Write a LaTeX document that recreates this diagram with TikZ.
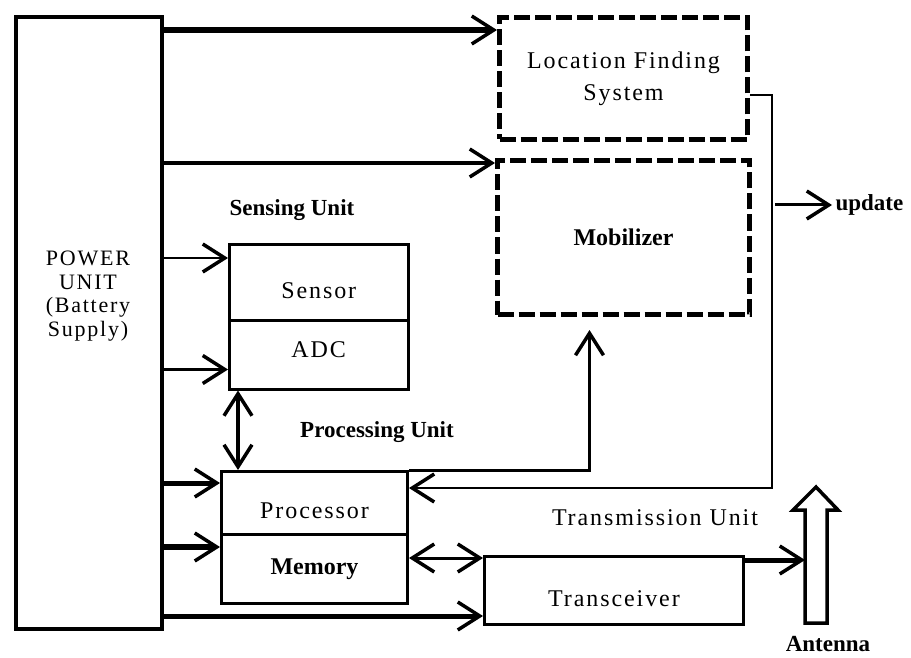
\documentclass[tikz,border=0pt]{standalone}
\usepackage{fontspec}
\setmainfont{Liberation Serif}
\newfontfamily\spacedfont[LetterSpace=8]{Liberation Serif}
\usetikzlibrary{arrows.meta}

\tikzset{
  box/.style={draw, line width=3pt, anchor=north west, inner sep=0pt},
  dbox/.style={draw, line width=5pt, dash pattern=on 16pt off 5pt, anchor=north west, inner sep=0pt},
  plain/.style={font=\fontsize{24}{28}\selectfont\spacedfont},
  boldlbl/.style={font=\fontsize{23}{27}\selectfont\bfseries},
  conn/.style={-{Straight Barb[length=22pt,width=28pt,line width=3.5pt]}},
  biconn/.style={{Straight Barb[length=22pt,width=28pt,line width=3.5pt]}-{Straight Barb[length=22pt,width=28pt,line width=3.5pt]}},
}

\begin{document}
\begin{tikzpicture}[x=1pt,y=-1pt]
\useasboundingbox (0,0) rectangle (911,658);

% power supply block
\node[box, line width=4pt, minimum width=146pt, minimum height=612pt] (power) at (14,15) {};
\node[align=center, font=\fontsize{22}{23.5}\selectfont\spacedfont] (powertxt) at (88,296) {POWER\\UNIT\\(Battery\\Supply)};

% location finding system and mobilizer (optional units, dashed)
\node[dbox, minimum width=248pt, minimum height=122pt, align=center,
      font=\fontsize{24}{32}\selectfont\spacedfont] (lfs) at (497,15) {Location Finding\\System};
\node[dbox, minimum width=252pt, minimum height=154pt, font=\fontsize{24}{28}\selectfont\bfseries] (mob) at (495,158) {Mobilizer};

% sensing unit
\node[box, line width=2.5pt, minimum width=179pt, minimum height=76pt,
      label={[plain, yshift=-8pt]center:Sensor}] (sensor) at (228,243) {};
\node[box, line width=2.5pt, minimum width=179pt, minimum height=69pt,
      label={[plain, yshift=5pt]center:ADC}] (adc) at (228,319) {};

% processing unit
\node[box, line width=3pt, minimum width=186pt, minimum height=63pt,
      label={[plain, yshift=-8pt]center:Processor}] (proc) at (220,470) {};
\node[box, line width=3pt, minimum width=186pt, minimum height=69pt, font=\fontsize{24}{28}\selectfont\bfseries] (mem) at (220,533) {Memory};

% transmission unit
\node[box, line width=3pt, minimum width=259pt, minimum height=68pt,
      label={[plain, yshift=-8pt]center:Transceiver}] (trans) at (483,555) {};

% antenna (hollow upward arrow)
\draw[line width=3.5pt, fill=white, line join=miter]
  (805,623) -- (827,623) -- (827,510) -- (838,510) -- (816,487) -- (793,510) -- (805,510) -- cycle;
\coordinate (antIn) at (805,560);

% unit labels
\node[boldlbl] (senslbl) at (292,210) {Sensing Unit};
\node[boldlbl] (proclbl) at (377,432) {Processing Unit};
\node[plain] (translbl) at (655,518) {Transmission Unit};
\node[boldlbl, inner sep=1pt] (antlbl) at (828,644) {Antenna};
\node[boldlbl, anchor=west] (upd) at (832,205) {update};

% entry points on the block borders
\coordinate (lfsIn) at ([yshift=-15pt]lfs.north west);
\coordinate (mobIn) at ([yshift=-5pt]mob.north west);
\coordinate (sensIn) at ([yshift=-15pt]sensor.north west);
\coordinate (adcIn) at ([yshift=21pt]adc.south west);
\coordinate (procIn) at ([yshift=-13pt]proc.north west);
\coordinate (memIn) at ([yshift=-14pt]mem.north west);
\coordinate (transIn) at ([yshift=10pt]trans.south west);
\coordinate (transMem) at ([yshift=-3pt]trans.north west);
\coordinate (mobUp) at ([xshift=-34pt,yshift=-13pt]mob.south);
\coordinate (procFb) at ([yshift=-18pt]proc.north east);
\coordinate (transOut) at ([yshift=-5pt]trans.north east);

% power distribution
\draw[conn, line width=6pt] (power.east |- lfsIn) -- (lfsIn);
\draw[conn, line width=3.5pt] (power.east |- mobIn) -- (mobIn);
\draw[conn, line width=2pt] (power.east |- sensIn) -- (sensIn);
\draw[conn, line width=3pt] (power.east |- adcIn) -- (adcIn);
\draw[conn, line width=5pt] (power.east |- procIn) -- (procIn);
\draw[conn, line width=6pt] (power.east |- memIn) -- (memIn);
\draw[conn, line width=5pt] (power.east |- transIn) -- (transIn);

% data paths
\draw[biconn, line width=4pt] ([xshift=10pt]adc.south west) -- ([xshift=18pt]proc.north west);
\draw[biconn, line width=3pt] (mem.east |- transMem) -- (transMem);
\draw[conn, line width=3pt] (proc.north east) -| (mobUp);
\draw[conn, line width=2pt] ([yshift=-17pt]lfs.east) -- ++(22,0) |- (procFb);
\draw[conn, line width=5pt] (transOut) -- (antIn);
\draw[conn, line width=3pt] ([xshift=-57pt]upd.west) -- (upd.west);
\end{tikzpicture}
\end{document}
